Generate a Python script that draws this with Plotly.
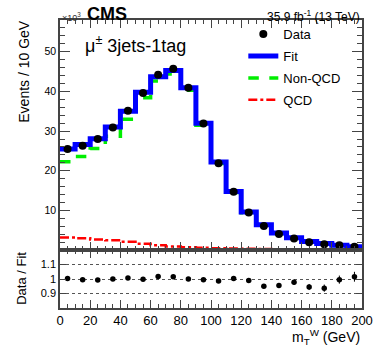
import plotly.graph_objects as go
from plotly.subplots import make_subplots

# m_T^W bins (GeV)
bin_edges = list(range(0, 210, 10))
bin_centers = [5, 15, 25, 35, 45, 55, 65, 75, 85, 95,
               105, 115, 125, 135, 145, 155, 165, 175, 185, 195]

# events, in units of 10^3
data_vals = [25.5, 26.3, 28.0, 30.9, 35.1, 39.6, 44.2, 45.7, 40.9, 31.9,
             21.9, 14.7, 9.45, 6.1, 4.05, 2.95, 2.0, 1.5, 1.2, 0.85]
fit_vals = [25.5, 26.6, 28.1, 31.0, 35.0, 39.8, 43.7, 45.3, 40.9, 32.0,
            22.2, 14.8, 9.6, 6.4, 4.3, 3.1, 2.2, 1.65, 1.22, 0.86]
nonqcd_vals = [22.3, 23.6, 25.6, 28.7, 33.0, 38.4, 42.6, 44.4, 40.3, 31.5,
               21.8, 14.5, 9.4, 6.25, 4.2, 3.02, 2.14, 1.6, 1.18, 0.83]
qcd_vals = [3.2, 3.0, 2.7, 2.5, 2.1, 1.6, 1.2, 0.9, 0.7, 0.6,
            0.5, 0.4, 0.33, 0.28, 0.24, 0.2, 0.17, 0.15, 0.13, 0.12]

ratio_vals = [1.003, 0.995, 0.993, 1.0, 1.007, 0.998, 1.018, 1.016, 1.0, 0.996,
              0.987, 1.003, 0.99, 0.95, 0.955, 0.978, 0.945, 0.937, 0.996, 1.016]
ratio_errs = [0.005, 0.005, 0.005, 0.005, 0.005, 0.005, 0.005, 0.005, 0.006, 0.007,
              0.008, 0.009, 0.011, 0.013, 0.015, 0.018, 0.021, 0.025, 0.028, 0.034]


def steps(vals):
    return vals + [vals[-1]]


font = "Liberation Sans, Arial, sans-serif"
axcol = "#444"

fig = make_subplots(rows=2, cols=1, shared_xaxes=False, vertical_spacing=0,
                    row_heights=[0.799, 0.201])

fig.add_trace(go.Scatter(x=bin_edges, y=steps(qcd_vals), mode="lines", line_shape="hv",
                         line=dict(color="#ff0000", width=2.5, dash="dashdot"),
                         name="QCD", legendgroup="d", legendrank=4), row=1, col=1)
fig.add_trace(go.Scatter(x=bin_edges, y=steps(nonqcd_vals), mode="lines", line_shape="hv",
                         line=dict(color="#00ee00", width=3.5, dash="dash"),
                         name="Non-QCD", legendgroup="c", legendrank=3), row=1, col=1)
fig.add_trace(go.Scatter(x=bin_edges, y=steps(fit_vals), mode="lines", line_shape="hv",
                         line=dict(color="#0000ff", width=5),
                         name="Fit", legendgroup="b", legendrank=2), row=1, col=1)
fig.add_trace(go.Scatter(x=bin_centers, y=data_vals, mode="markers",
                         marker=dict(color="black", size=8),
                         name="Data", legendgroup="a", legendrank=1), row=1, col=1)

fig.add_trace(go.Scatter(x=bin_centers, y=ratio_vals, mode="markers",
                         marker=dict(color="black", size=5.5),
                         error_y=dict(type="data", array=ratio_errs, color="black",
                                      thickness=1, width=0),
                         showlegend=False), row=2, col=1)

common = dict(showline=True, linecolor=axcol, linewidth=1.5, mirror="allticks",
              ticks="inside", tickcolor=axcol, zeroline=False, showgrid=False)

fig.update_xaxes(range=[0, 200], tick0=0, dtick=20, ticklen=8,
                 minor=dict(ticks="inside", dtick=5, ticklen=4, tickcolor=axcol),
                 **common)
fig.update_xaxes(showticklabels=False, row=1, col=1)
fig.update_xaxes(tickfont=dict(family=font, size=13, color="black"), row=2, col=1)

fig.update_yaxes(range=[0, 58], tickvals=[10, 20, 30, 40, 50], ticklen=10,
                 minor=dict(ticks="inside", dtick=2, ticklen=5, tickcolor=axcol),
                 tickfont=dict(family=font, size=10.5, color="black"),
                 **common, row=1, col=1)
fig.update_yaxes(range=[0.8, 1.2], tickvals=[0.9, 1.0, 1.1], ticktext=["0.9", "1", "1.1"],
                 ticklen=6, tickfont=dict(family=font, size=11, color="black"),
                 **{k: v for k, v in common.items() if k != "showgrid"},
                 showgrid=True, gridcolor="#555", griddash="dot", gridwidth=1,
                 row=2, col=1)

ann = dict(xref="paper", yref="paper", showarrow=False, font=dict(family=font, color="black"))
fig.add_annotation(x=0.083, y=1.02, text="<b>CMS</b>", xanchor="left", yanchor="middle",
                   **{**ann, "font": dict(family=font, size=18, color="black")})
fig.add_annotation(x=0.0, y=1.01, text="×10<sup>3</sup>", xanchor="left", yanchor="middle",
                   **{**ann, "font": dict(family=font, size=9, color="#333")})
fig.add_annotation(x=1.0, y=1.015, text="35.9 fb<sup>-1</sup> (13 TeV)", xanchor="right",
                   yanchor="middle", **{**ann, "font": dict(family=font, size=12, color="black")})
fig.add_annotation(x=0.075, y=0.916, text="μ<sup>±</sup> 3jets-1tag", xanchor="left",
                   yanchor="middle", **{**ann, "font": dict(family=font, size=18, color="black")})
fig.add_annotation(x=-0.12, y=0.823, text="Events / 10 GeV", textangle=-90,
                   xanchor="center", yanchor="middle",
                   **{**ann, "font": dict(family=font, size=14, color="black")})
fig.add_annotation(x=-0.13, y=0.104, text="Data / Fit", textangle=-90,
                   xanchor="center", yanchor="middle",
                   **{**ann, "font": dict(family=font, size=13, color="black")})
fig.add_annotation(x=1.0, y=-0.1, text="m<sub>T</sub><sup>W</sup> (GeV)", xanchor="right",
                   yanchor="middle", **{**ann, "font": dict(family=font, size=14, color="black")})

fig.update_layout(
    width=374, height=357,
    margin=dict(l=60, r=12, t=20, b=49, autoexpand=False),
    paper_bgcolor="white", plot_bgcolor="white",
    showlegend=True,
    legend=dict(x=0.607, y=1.003, xanchor="left", yanchor="top",
                bgcolor="rgba(0,0,0,0)", tracegroupgap=2,
                font=dict(family=font, size=13, color="black")),
)

fig.write_html("out.html", config={"displayModeBar": False},
               post_script="document.body.style.margin='0px';")
